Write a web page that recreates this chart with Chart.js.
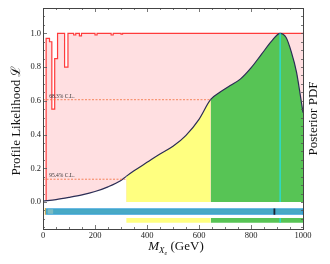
<!DOCTYPE html>
<html>
<head>
<meta charset="utf-8">
<script src="https://cdn.jsdelivr.net/npm/chart.js@4"></script>
<style>
  html, body { margin: 0; padding: 0; background: #fff; }
</style>
</head>
<body>
<canvas id="chart" width="330" height="264"></canvas>
<script>
// posterior pdf of the mass (normalised to its peak)
const massGrid  = [0, 50, 100, 150, 200, 250, 300, 320, 350, 400, 450, 500, 550, 600, 645, 680, 720, 760, 800, 840, 880, 912, 935, 955, 975, 990, 1000];
const posterior = [0.005, 0.014, 0.027, 0.042, 0.062, 0.090, 0.128, 0.152, 0.185, 0.235, 0.285, 0.330, 0.395, 0.490, 0.608, 0.650, 0.690, 0.730, 0.795, 0.875, 0.955, 1.0, 0.975, 0.89, 0.77, 0.63, 0.53];

// profile likelihood (binned, step values start at each x)
const profileX = [12, 12, 25, 34, 45, 56, 83, 96, 118, 126, 140, 148, 200, 208, 262, 270, 300, 306, 1000];
const profileL = [0, 0.97, 0.95, 0.55, 0.85, 1.0, 0.8, 1.0, 0.99, 1.0, 0.985, 1.0, 0.99, 1.0, 0.99, 1.0, 0.995, 1.0, 1.0];

// confidence levels of the profile likelihood
const clNames  = ['68.3% C.L.', '95.4% C.L.'];
const clLevels = [0.6065, 0.135];
const clEnds   = [645, 320];

// credible intervals and markers
const cred95 = [320, 645];
const cred68 = [645, 1000];
const profileRange = [12, 1000];
const bestFit = 890;
const postMode = 912;

const xTicks = [0, 200, 400, 600, 800, 1000];
const yTicks = [0, 0.2, 0.4, 0.6, 0.8, 1.0];

const YELLOW = '#ffff80';
const GREEN = '#57c455';
const SERIF = '"Liberation Serif", "DejaVu Serif", serif';

function pts(xs, ys) {
  return xs.map((x, i) => ({x: x, y: ys[i]}));
}

// horizontal band between two y levels
function band(x0, x1, yTop, yBot, color, order) {
  return {
    data: [{x: x0, y: yTop}, {x: x1, y: yTop}],
    fill: {value: yBot}, backgroundColor: color,
    borderWidth: 0, pointRadius: 0, order: order
  };
}

function vline(x, y0, y1, color, width, order) {
  return {
    data: [{x: x, y: y0}, {x: x, y: y1}],
    borderColor: color, borderWidth: width, pointRadius: 0, fill: false, order: order
  };
}

const datasets = [];

// profile likelihood (pink, stepped)
datasets.push({
  data: pts(profileX, profileL),
  stepped: 'before',
  borderColor: '#ff3b3b', borderWidth: 1.2,
  backgroundColor: '#ffdfe1', fill: 'origin',
  pointRadius: 0, order: 9
});

// posterior pdf with coloured credible regions
datasets.push({
  data: pts(massGrid, posterior),
  cubicInterpolationMode: 'monotone',
  borderColor: '#2b2d55', borderWidth: 1.2,
  backgroundColor: '#ffffff', fill: 'origin',
  segment: {
    backgroundColor: c => c.p0.parsed.x >= cred68[0] ? GREEN : (c.p0.parsed.x >= cred95[0] ? YELLOW : '#ffffff')
  },
  pointRadius: 0, order: 6
});

// C.L. dashed lines
clLevels.forEach((lv, i) => {
  datasets.push({
    data: [{x: 0, y: lv}, {x: clEnds[i], y: lv}],
    borderColor: '#f26b3a', borderWidth: 0.8, borderDash: [2, 1.5],
    pointRadius: 0, fill: false, order: 4
  });
});

// bars under the plot
datasets.push(band(profileRange[0], profileRange[1], -0.040, -0.073, '#48a9c5', 5));
datasets.push({
  data: [{x: profileRange[0], y: -0.040}, {x: profileRange[1], y: -0.040}, {x: profileRange[1], y: -0.073},
         {x: profileRange[0], y: -0.073}, {x: profileRange[0], y: -0.040}],
  borderColor: '#2a9bd8', borderWidth: 0.8, pointRadius: 0, fill: false, order: 4
});
datasets.push(band(6, 12, -0.035, -0.076, '#f0b030', 4));
datasets.push(band(17, 40, -0.042, -0.071, '#7cbcc2', 4));
datasets.push(vline(bestFit, -0.038, -0.075, '#1c2233', 1.8, 3));
datasets.push(band(cred95[0], cred95[1], -0.095, -0.123, YELLOW, 5));
datasets.push(band(cred68[0], cred68[1], -0.095, -0.123, GREEN, 5));

// mode of the posterior
datasets.push(vline(postMode, 0, 1.0, '#22e0e8', 1.2, 1));
datasets.push(vline(postMode, -0.095, -0.123, '#22e0e8', 1.2, 1));

// ticks, frame and titles
const decor = {
  id: 'decor',
  afterDraw(chart) {
    const ctx = chart.ctx;
    const a = chart.chartArea;
    const xs = chart.scales.x, ys = chart.scales.y;
    ctx.save();
    ctx.strokeStyle = '#555';
    ctx.lineWidth = 0.8;
    ctx.beginPath();
    for (let v = 0; v <= 1000; v += 50) {
      const px = Math.round(xs.getPixelForValue(v)) + 0.5;
      const len = v % 200 === 0 ? 4 : 2;
      ctx.moveTo(px, a.bottom); ctx.lineTo(px, a.bottom - len);
      ctx.moveTo(px, a.top); ctx.lineTo(px, a.top + len);
    }
    for (let k = -3; k <= 23; k++) {
      const v = k * 0.05;
      const py = Math.round(ys.getPixelForValue(v)) + 0.5;
      const len = (k % 4 === 0 && k >= 0 && k <= 20) ? 4 : 2;
      ctx.moveTo(a.left, py); ctx.lineTo(a.left + len, py);
      ctx.moveTo(a.right, py); ctx.lineTo(a.right - 2, py);
    }
    ctx.stroke();
    ctx.strokeStyle = '#444';
    ctx.lineWidth = 1;
    ctx.strokeRect(Math.round(a.left) + 0.5, Math.round(a.top) + 0.5,
                   Math.round(a.right - a.left), Math.round(a.bottom - a.top));

    // C.L. labels
    ctx.fillStyle = '#333';
    ctx.font = '5.5px ' + SERIF;
    ctx.textAlign = 'left';
    ctx.textBaseline = 'alphabetic';
    clLevels.forEach((lv, i) => {
      ctx.fillText(clNames[i], xs.getPixelForValue(24), ys.getPixelForValue(lv) - 2);
    });

    // axis titles
    ctx.fillStyle = '#111';
    const midY = (a.top + a.bottom) / 2;
    ctx.textAlign = 'center';
    ctx.textBaseline = 'middle';
    ctx.font = '13px ' + SERIF;
    ctx.save();
    ctx.translate(17, midY + 2);
    ctx.rotate(-Math.PI / 2);
    ctx.fillText('Profile Likelihood \u2112', 0, 0);
    ctx.restore();
    ctx.save();
    ctx.translate(314, midY);
    ctx.rotate(-Math.PI / 2);
    ctx.fillText('Posterior PDF', 0, 0);
    ctx.restore();

    // x title: M_{X_e} (GeV)
    ctx.textAlign = 'left';
    ctx.textBaseline = 'alphabetic';
    const parts = [
      {t: 'M', f: 'italic 13px ' + SERIF, dy: 0},
      {t: 'X', f: 'italic 9px ' + SERIF, dy: 3},
      {t: 'e', f: 'italic 6px ' + SERIF, dy: 5},
      {t: ' (GeV)', f: '13px ' + SERIF, dy: 0}
    ];
    let w = 0;
    parts.forEach(p => { ctx.font = p.f; w += ctx.measureText(p.t).width; });
    let x = 176 - w / 2;
    const base = 250;
    parts.forEach(p => {
      ctx.font = p.f;
      ctx.fillText(p.t, x, base + p.dy);
      x += ctx.measureText(p.t).width;
    });
    ctx.restore();
  }
};

new Chart(document.getElementById('chart'), {
  type: 'line',
  data: {datasets: datasets},
  options: {
    responsive: false,
    animation: false,
    layout: {padding: {top: 8, right: 27, left: 0, bottom: 0}},
    plugins: {legend: {display: false}, tooltip: {enabled: false}},
    scales: {
      x: {
        type: 'linear', min: 0, max: 1000,
        grid: {display: false, drawTicks: false},
        border: {display: false},
        afterBuildTicks: s => { s.ticks = xTicks.map(v => ({value: v})); },
        afterFit: s => { s.height = 35; },
        ticks: {padding: 2, color: '#222', font: {family: SERIF, size: 8.5}, maxRotation: 0,
                callback: v => String(v)}
      },
      y: {
        min: -0.16, max: 1.15,
        grid: {display: false, drawTicks: false},
        border: {display: false},
        afterBuildTicks: s => { s.ticks = yTicks.map(v => ({value: v})); },
        afterFit: s => { s.width = 43; },
        ticks: {padding: 2, color: '#222', font: {family: SERIF, size: 8.5},
                callback: v => Number(v).toFixed(1)}
      }
    }
  },
  plugins: [decor]
});
</script>
</body>
</html>
